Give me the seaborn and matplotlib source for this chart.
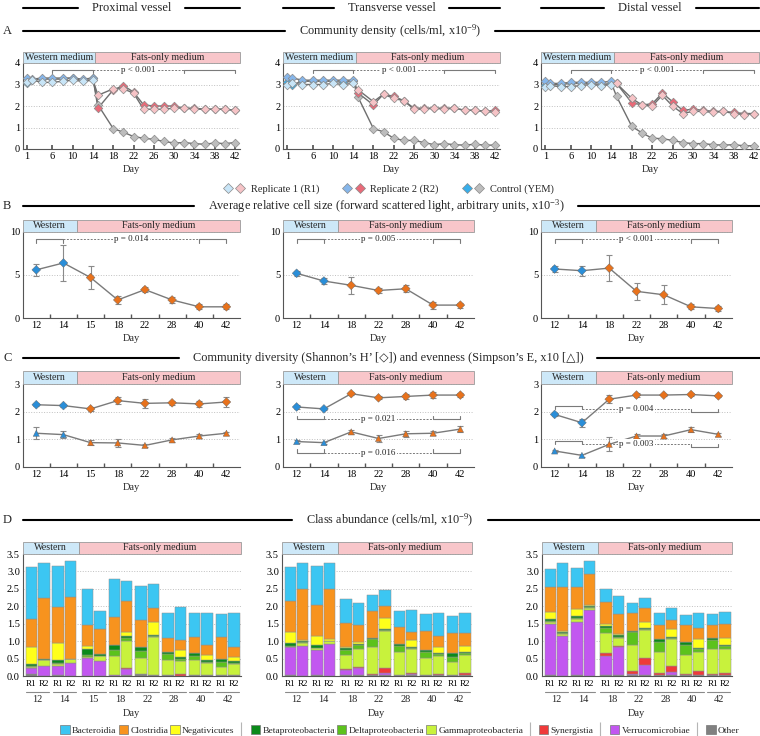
import numpy as np
import matplotlib.pyplot as plt
import seaborn as sns
from matplotlib.patches import Rectangle, Patch
from matplotlib.lines import Line2D
from matplotlib.legend_handler import HandlerTuple

sns.set_theme(style='white')
plt.rcParams['font.family'] = ['Liberation Serif', 'DejaVu Serif']
plt.rcParams['mathtext.fontset'] = 'custom'
plt.rcParams['mathtext.rm'] = 'Liberation Serif'
plt.rcParams['mathtext.it'] = 'Liberation Serif:italic'

W, H = 760, 736

# ---------------- data ----------------
vessels = ['Proximal vessel', 'Transverse vessel', 'Distal vessel']

# A: community density (cells/ml, x10^-9)
days_west = [1, 2, 4, 6, 8, 10, 12, 14]
days_fats = [15, 18, 20, 22, 24, 26, 28, 30, 32, 34, 36, 38, 40, 42]
day_ticks = [1, 6, 10, 14, 18, 22, 26, 30, 34, 38, 42]

prox_r1 = [3.10, 3.20, 3.10, 3.10, 3.15, 3.20, 3.15, 3.20, 2.50, 2.80, 2.80, 2.60, 1.85, 1.85, 1.85, 1.90, 1.90, 1.85, 1.85, 1.85, 1.85, 1.80]
prox_r2 = [3.30, 3.25, 3.30, 3.30, 3.30, 3.30, 3.25, 3.30, 1.90, 2.75, 2.95, 2.65, 2.05, 2.00, 2.00, 2.00, 1.90, 1.90, 1.85, 1.85, 1.85, 1.80]
prox_ctrl = [3.05, 3.20, 3.25, 3.25, 3.25, 3.30, 3.20, 3.30, 2.05, 0.95, 0.78, 0.58, 0.50, 0.45, 0.35, 0.28, 0.30, 0.25, 0.22, 0.28, 0.25, 0.30]
trans_r1 = [3.00, 3.05, 3.00, 3.00, 3.00, 3.05, 3.00, 3.05, 2.75, 2.20, 2.55, 2.35, 2.25, 1.85, 1.85, 1.90, 1.85, 1.90, 1.80, 1.80, 1.75, 1.70]
trans_r2 = [3.35, 3.30, 3.20, 3.20, 3.20, 3.20, 3.20, 3.20, 2.60, 2.05, 2.55, 2.45, 2.25, 1.90, 1.90, 1.90, 1.90, 1.90, 1.80, 1.80, 1.75, 1.80]
trans_ctrl = [3.10, 3.00, 3.15, 3.15, 3.15, 3.15, 3.10, 3.15, 2.40, 0.95, 0.80, 0.50, 0.40, 0.40, 0.30, 0.20, 0.25, 0.20, 0.18, 0.22, 0.18, 0.18]
dist_r1 = [2.90, 2.95, 2.90, 2.90, 2.95, 3.00, 2.95, 3.00, 3.05, 2.35, 2.05, 2.00, 2.50, 2.00, 1.65, 1.75, 1.75, 1.70, 1.75, 1.65, 1.60, 1.65]
dist_r2 = [3.15, 3.05, 3.05, 3.10, 3.10, 3.10, 3.10, 3.15, 3.05, 2.15, 2.05, 2.10, 2.60, 2.20, 1.80, 1.85, 1.80, 1.75, 1.75, 1.70, 1.65, 1.65]
dist_ctrl = [3.00, 3.00, 3.00, 3.05, 3.05, 3.05, 3.00, 3.05, 2.45, 1.05, 0.75, 0.50, 0.48, 0.40, 0.30, 0.25, 0.25, 0.20, 0.18, 0.20, 0.15, 0.15]

# B: average relative cell size
sample_days_prox = ['12', '14', '15', '18', '22', '28', '40', '42']
sample_days = ['12', '14', '18', '22', '28', '40', '42']
prox_size = [5.6, 6.4, 4.7, 2.1, 3.3, 2.1, 1.3, 1.3]
prox_size_err = [0.7, 2.1, 1.3, 0.5, 0.3, 0.3, 0.3, 0.3]
trans_size = [5.2, 4.3, 3.8, 3.2, 3.4, 1.5, 1.5]
trans_size_err = [0.3, 0.4, 1.0, 0.3, 0.4, 0.4, 0.3]
dist_size = [5.7, 5.5, 5.8, 3.1, 2.7, 1.3, 1.1]
dist_size_err = [0.4, 0.6, 1.5, 1.0, 1.1, 0.3, 0.3]
size_p = ['p = 0.014', 'p = 0.005', 'p < 0.001']

# C: diversity / evenness
prox_shannon = [2.25, 2.22, 2.10, 2.40, 2.30, 2.32, 2.28, 2.35]
prox_shannon_err = [0.06, 0.06, 0.06, 0.12, 0.15, 0.08, 0.10, 0.18]
prox_simpson = [1.22, 1.17, 0.88, 0.87, 0.78, 0.98, 1.12, 1.22]
prox_simpson_err = [0.22, 0.12, 0.08, 0.14, 0.05, 0.06, 0.06, 0.06]
trans_shannon = [2.17, 2.10, 2.65, 2.50, 2.55, 2.60, 2.60]
trans_shannon_err = [0.06, 0.05, 0.05, 0.06, 0.08, 0.10, 0.08]
trans_simpson = [0.92, 0.88, 1.27, 1.03, 1.20, 1.22, 1.37]
trans_simpson_err = [0.05, 0.04, 0.08, 0.12, 0.10, 0.08, 0.10]
dist_shannon = [1.90, 1.60, 2.45, 2.60, 2.60, 2.62, 2.57]
dist_shannon_err = [0.06, 0.15, 0.15, 0.06, 0.05, 0.06, 0.05]
dist_simpson = [0.58, 0.42, 0.82, 1.12, 1.12, 1.35, 1.18]
dist_simpson_err = [0.05, 0.05, 0.25, 0.08, 0.06, 0.10, 0.05]

# D: class abundance (R1, R2 per sampling day)
classes = ['Bacteroidia', 'Clostridia', 'Negativicutes', 'Betaproteobacteria', 'Deltaproteobacteria',
           'Gammaproteobacteria', 'Synergistia', 'Verrucomicrobiae', 'Other']
class_colors = ['#3cc6f2', '#f7931e', '#ffff1a', '#0b8a1a', '#5cc21c', '#c8f23c', '#ef3a3a', '#c257f0', '#808080']

prox_bact = [1.49, 0.99, 1.18, 1.03, 1.02, 0.51, 1.09, 0.57, 0.95, 0.71, 0.72, 0.95, 0.69, 0.90, 0.66, 0.96]
prox_clos = [0.80, 1.75, 1.02, 1.76, 0.60, 0.74, 0.80, 0.88, 0.80, 0.39, 0.40, 0.29, 0.47, 0.30, 0.61, 0.29]
prox_nega = [0.48, 0.01, 0.50, 0.00, 0.10, 0.00, 0.01, 0.12, 0.00, 0.37, 0.00, 0.19, 0.00, 0.15, 0.00, 0.13]
prox_beta = [0.06, 0.03, 0.08, 0.02, 0.17, 0.04, 0.13, 0.05, 0.10, 0.03, 0.08, 0.05, 0.08, 0.05, 0.10, 0.04]
prox_delta = [0.03, 0.01, 0.02, 0.00, 0.05, 0.02, 0.18, 0.10, 0.20, 0.03, 0.17, 0.07, 0.13, 0.02, 0.15, 0.03]
prox_gamma = [0.03, 0.15, 0.05, 0.12, 0.04, 0.14, 0.54, 0.76, 0.45, 1.09, 0.43, 0.38, 0.43, 0.36, 0.23, 0.33]
prox_syn = [0.00, 0.00, 0.00, 0.00, 0.00, 0.00, 0.00, 0.05, 0.00, 0.01, 0.00, 0.05, 0.00, 0.00, 0.00, 0.00]
prox_verr = [0.18, 0.29, 0.28, 0.35, 0.50, 0.41, 0.02, 0.17, 0.00, 0.00, 0.00, 0.00, 0.00, 0.00, 0.00, 0.00]
prox_other = [0.05, 0.01, 0.02, 0.01, 0.01, 0.01, 0.01, 0.02, 0.07, 0.02, 0.02, 0.00, 0.02, 0.02, 0.02, 0.02]

trans_bact = [0.97, 0.73, 1.11, 0.73, 0.67, 0.63, 0.45, 0.44, 0.44, 0.65, 0.50, 0.66, 0.50, 0.60]
trans_clos = [0.90, 1.48, 0.89, 1.45, 0.70, 0.47, 0.78, 0.37, 0.50, 0.23, 0.53, 0.32, 0.57, 0.35]
trans_nega = [0.30, 0.02, 0.28, 0.04, 0.03, 0.05, 0.01, 0.30, 0.00, 0.19, 0.00, 0.17, 0.00, 0.17]
trans_beta = [0.08, 0.03, 0.07, 0.02, 0.05, 0.05, 0.03, 0.03, 0.05, 0.03, 0.07, 0.03, 0.10, 0.04]
trans_delta = [0.04, 0.02, 0.02, 0.00, 0.15, 0.10, 0.23, 0.02, 0.19, 0.03, 0.16, 0.05, 0.15, 0.06]
trans_gamma = [0.01, 0.10, 0.04, 0.07, 0.40, 0.51, 0.76, 1.08, 0.64, 0.67, 0.48, 0.51, 0.38, 0.52]
trans_syn = [0.00, 0.00, 0.00, 0.00, 0.03, 0.03, 0.04, 0.12, 0.01, 0.05, 0.02, 0.04, 0.00, 0.06]
trans_verr = [0.78, 0.84, 0.71, 0.91, 0.15, 0.22, 0.00, 0.07, 0.00, 0.02, 0.00, 0.00, 0.00, 0.00]
trans_other = [0.04, 0.01, 0.04, 0.01, 0.02, 0.02, 0.02, 0.03, 0.03, 0.03, 0.02, 0.02, 0.02, 0.02]

dist_bact = [0.52, 0.71, 0.55, 0.38, 0.38, 0.52, 0.30, 0.29, 0.35, 0.33, 0.30, 0.43, 0.32, 0.35]
dist_clos = [0.71, 1.26, 0.63, 0.89, 0.62, 0.58, 0.50, 0.40, 0.40, 0.27, 0.47, 0.32, 0.35, 0.38]
dist_nega = [0.22, 0.01, 0.21, 0.02, 0.07, 0.03, 0.01, 0.17, 0.00, 0.23, 0.00, 0.25, 0.00, 0.20]
dist_beta = [0.05, 0.04, 0.05, 0.04, 0.05, 0.04, 0.04, 0.04, 0.07, 0.04, 0.08, 0.03, 0.08, 0.03]
dist_delta = [0.02, 0.02, 0.03, 0.02, 0.15, 0.03, 0.35, 0.02, 0.28, 0.03, 0.30, 0.07, 0.24, 0.09]
dist_gamma = [0.06, 0.06, 0.08, 0.05, 0.58, 0.23, 0.75, 0.79, 0.62, 0.77, 0.54, 0.56, 0.73, 0.68]
dist_syn = [0.00, 0.00, 0.00, 0.00, 0.08, 0.05, 0.10, 0.22, 0.05, 0.16, 0.04, 0.10, 0.03, 0.08]
dist_verr = [1.46, 1.14, 1.51, 1.89, 0.53, 0.80, 0.01, 0.29, 0.00, 0.10, 0.00, 0.02, 0.00, 0.00]
dist_other = [0.04, 0.01, 0.04, 0.01, 0.04, 0.02, 0.04, 0.02, 0.03, 0.02, 0.02, 0.02, 0.02, 0.02]

# ---------------- styling ----------------
BLUE_W, ORANGE_F = '#2a8ed8', '#e8721c'
LINE_GRAY = '#7a7a7a'
BAND_BLUE, BAND_PINK = '#cde8f8', '#f8c6ca'

fig = plt.figure(figsize=(W / 100, H / 100), dpi=100)


def px_axes(x0, y0, x1, y1):
    return fig.add_axes([x0 / W, 1 - y1 / H, (x1 - x0) / W, (y1 - y0) / H])


def style_axes(ax):
    for s in ['top', 'right']:
        ax.spines[s].set_visible(False)
    for s in ['left', 'bottom']:
        ax.spines[s].set_color('#555555')
        ax.spines[s].set_linewidth(0.8)
    ax.tick_params(labelsize=7.5, pad=2, length=0, colors='black')
    ax.yaxis.grid(True, ls=':', lw=0.7, color='#c0c0c0')
    ax.xaxis.grid(False)
    ax.set_axisbelow(True)


def medium_band(ax, split, left_txt, right_txt, band_px, ax_px):
    tr = ax.get_xaxis_transform()
    x0, x1 = ax.get_xlim()
    h = band_px / ax_px
    ax.add_patch(Rectangle((x0, 1.0), split - x0, h, transform=tr, fc=BAND_BLUE, ec='#9a9a9a',
                           lw=0.6, clip_on=False, zorder=6))
    ax.add_patch(Rectangle((split, 1.0), x1 - split, h, transform=tr, fc=BAND_PINK, ec='#9a9a9a',
                           lw=0.6, clip_on=False, zorder=6))
    ax.text((x0 + split) / 2, 1 + h / 2, left_txt, transform=tr, ha='center', va='center',
            fontsize=7.2, zorder=7)
    ax.text((split + x1) / 2, 1 + h / 2, right_txt, transform=tr, ha='center', va='center',
            fontsize=7.2, zorder=7)


def p_bracket(ax, xa, xb, xc, xd, y, label, tick, y_right=None, tick_right=None, y_dash=None):
    yr = y if y_right is None else y_right
    tr = tick if tick_right is None else tick_right
    yd = y if y_dash is None else y_dash
    kw = dict(color='#7a7a7a', lw=0.8, zorder=3)
    ax.plot([xa, xa, xb, xb], [y - tick, y, y, y - tick], **kw)
    ax.plot([xc, xc, xd, xd], [yr - tr, yr, yr, yr - tr], **kw)
    ax.plot([xb, xc], [yd, yd], ls=(0, (2, 1.5)), color='#7a7a7a', lw=0.7, zorder=3)
    ax.text((xb + xc) / 2, yd, label, ha='center', va='center', fontsize=6.5, zorder=4,
            bbox=dict(fc='white', ec='none', pad=0.8))


# ---------------- A: density ----------------
A_TOP, A_BOT = 63, 149
a_x = [(22.7, 240), (283, 500), (541, 759)]
a_series = [(prox_r1, prox_r2, prox_ctrl), (trans_r1, trans_r2, trans_ctrl), (dist_r1, dist_r2, dist_ctrl)]
a_colors = [('#c8e5f7', '#f6c3c6'), ('#86b6ea', '#e96a78'), ('#38aeea', '#bdbdbd')]
all_days = days_west + days_fats
nw = len(days_west)
for (x0, x1), (r1, r2, ctrl) in zip(a_x, a_series):
    ax = px_axes(x0, A_TOP, x1, A_BOT)
    style_axes(ax)
    for vals, (cw, cf) in zip([ctrl, r2, r1], a_colors[::-1]):
        sns.lineplot(x=all_days, y=vals, ax=ax, color='#6e6e6e', lw=1.0, zorder=2)
        ax.scatter(all_days[:nw], vals[:nw], marker='D', s=19, c=cw, edgecolors='#8a8a8a',
                   linewidths=0.5, zorder=3)
        ax.scatter(all_days[nw:], vals[nw:], marker='D', s=19, c=cf, edgecolors='#8a8a8a',
                   linewidths=0.5, zorder=3)
    ax.set_xlim(0.15, 43)
    ax.set_ylim(0, 4)
    ax.set_yticks(range(5))
    ax.set_xticks(day_ticks)
    ax.tick_params(axis='x', direction='in', length=3, bottom=True, color='#555555')
    ax.set_xlabel('Day', fontsize=7.5, labelpad=3)
    ax.set_ylabel('')
    medium_band(ax, 14.5, 'Western medium', 'Fats-only medium', 11, A_BOT - A_TOP)
    p_bracket(ax, 6, 14, 32, 42, 3.67, 'p < 0.001', 0.12)

leg_handles = []
for cw, cf in a_colors:
    leg_handles.append((Line2D([], [], ls='none', marker='D', ms=5.5, mfc=cw, mec='#8a8a8a', mew=0.5),
                        Line2D([], [], ls='none', marker='D', ms=5.5, mfc=cf, mec='#8a8a8a', mew=0.5)))
fig.legend(leg_handles, ['Replicate 1 (R1)', 'Replicate 2 (R2)', 'Control (YEM)'],
           handler_map={tuple: HandlerTuple(ndivide=None, pad=0.15)},
           loc='center', bbox_to_anchor=(388 / W, 1 - 189 / H), ncol=3, frameon=False,
           fontsize=7.5, handlelength=2.2, handletextpad=0.5, columnspacing=2.2)

# ---------------- B & C: categorical panels ----------------
bc_x = [(22.7, 240), (283, 474), (541, 732)]


def category_axes(ax, labels):
    n = len(labels)
    ax.set_xlim(-0.5, n - 0.5)
    ax.set_xticks(range(n))
    ax.set_xticklabels(labels)
    ax.set_xticks(np.arange(0.5, n - 1, 1), minor=True)
    ax.tick_params(axis='x', which='minor', direction='in', length=3, bottom=True, color='#555555')
    ax.set_xlabel('Day', fontsize=7.5, labelpad=3)


def series_points(ax, vals, errs, marker):
    x = np.arange(len(vals))
    sns.lineplot(x=x, y=vals, ax=ax, color=LINE_GRAY, lw=1.0, zorder=2)
    ax.errorbar(x, vals, yerr=errs, fmt='none', ecolor='#8a8a8a', elinewidth=0.8, capsize=2,
                capthick=0.8, zorder=2)
    cols = [BLUE_W if i < 2 else ORANGE_F for i in x]
    ax.scatter(x, vals, marker=marker, s=20, c=cols, edgecolors='#666666', linewidths=0.3, zorder=4)


B_TOP, B_BOT = 232, 318
b_data = [(sample_days_prox, prox_size, prox_size_err), (sample_days, trans_size, trans_size_err),
          (sample_days, dist_size, dist_size_err)]
for (x0, x1), (labels, vals, errs), ptxt in zip(bc_x, b_data, size_p):
    ax = px_axes(x0, B_TOP, x1, B_BOT)
    style_axes(ax)
    series_points(ax, vals, errs, 'D')
    category_axes(ax, labels)
    ax.set_ylim(0, 10)
    ax.set_yticks([0, 5, 10])
    n = len(labels)
    medium_band(ax, 1.5, 'Western', 'Fats-only medium', 12, B_BOT - B_TOP)
    p_bracket(ax, 0, 1, n - 2, n - 1, 9.2, ptxt, 0.5)

C_TOP, C_BOT = 384, 467
c_data = [(sample_days_prox, prox_shannon, prox_shannon_err, prox_simpson, prox_simpson_err),
          (sample_days, trans_shannon, trans_shannon_err, trans_simpson, trans_simpson_err),
          (sample_days, dist_shannon, dist_shannon_err, dist_simpson, dist_simpson_err)]
c_axes = []
for (x0, x1), (labels, sh, she, si, sie) in zip(bc_x, c_data):
    ax = px_axes(x0, C_TOP, x1, C_BOT)
    style_axes(ax)
    series_points(ax, sh, she, 'D')
    series_points(ax, si, sie, '^')
    category_axes(ax, labels)
    ax.set_ylim(0, 3)
    ax.set_yticks([0, 1, 2, 3])
    medium_band(ax, 1.5, 'Western', 'Fats-only medium', 13, C_BOT - C_TOP)
    c_axes.append(ax)
p_bracket(c_axes[1], 0, 1, 5, 6, 1.72, 'p = 0.021', -0.12)
p_bracket(c_axes[1], 0, 1, 5, 6, 0.52, 'p = 0.016', -0.12)
p_bracket(c_axes[2], 0, 1, 5, 6, 2.22, 'p = 0.004', 0.12, y_right=1.98, tick_right=-0.12, y_dash=2.1)
p_bracket(c_axes[2], 0, 1, 5, 6, 0.95, 'p = 0.003', 0.12, y_right=0.71, tick_right=-0.12, y_dash=0.83)

# ---------------- D: stacked class abundance ----------------
D_TOP, D_BOT = 554, 676
d_x = [(22.7, 240.7), (281.7, 471.7), (541.7, 731.7)]
d_data = [
    (sample_days_prox, [prox_other, prox_verr, prox_syn, prox_gamma, prox_delta, prox_beta, prox_nega, prox_clos, prox_bact]),
    (sample_days, [trans_other, trans_verr, trans_syn, trans_gamma, trans_delta, trans_beta, trans_nega, trans_clos, trans_bact]),
    (sample_days, [dist_other, dist_verr, dist_syn, dist_gamma, dist_delta, dist_beta, dist_nega, dist_clos, dist_bact]),
]
stack_colors = class_colors[::-1]
d_h = D_BOT - D_TOP
for (x0, x1), (labels, layers) in zip(d_x, d_data):
    ax = px_axes(x0, D_TOP, x1, D_BOT)
    style_axes(ax)
    g = np.arange(len(labels))
    starts = g * 2.15 + np.where(g >= 2, 0.2, 0.0)
    pos = np.ravel(np.column_stack([starts, starts + 1]))
    bottom = np.zeros(len(pos))
    for vals, col in zip(layers, stack_colors):
        vals = np.asarray(vals)
        ax.bar(pos, vals, width=0.92, bottom=bottom, color=col, edgecolor='#8f8f8f', linewidth=0.35,
               zorder=2)
        bottom += vals
    ax.set_xlim(-0.7, pos[-1] + 0.55)
    ax.set_ylim(0, 3.5)
    ax.set_yticks(np.arange(0, 3.51, 0.5))
    ax.set_yticklabels([f'{v:.1f}' for v in np.arange(0, 3.51, 0.5)])
    ax.set_xticks(pos)
    ax.set_xticklabels(['R1', 'R2'] * len(labels), fontsize=6.5)
    ax.tick_params(axis='x', pad=3)
    tr = ax.get_xaxis_transform()
    for s, lab in zip(starts, labels):
        ax.plot([s - 0.45, s + 1.45], [-16 / d_h] * 2, transform=tr, color='#8a8a8a', lw=0.8,
                clip_on=False)
        ax.text(s + 0.5, -24 / d_h, lab, transform=tr, ha='center', va='center', fontsize=7.5)
    ax.text(0.5, -38 / d_h, 'Day', transform=ax.transAxes, ha='center', va='center', fontsize=7.5)
    medium_band(ax, (starts[1] + 1 + starts[2]) / 2, 'Western', 'Fats-only medium', 12, d_h)

d_handles, d_labels = [], []
sep = Line2D([], [], ls='none', marker='|', ms=10, mew=0.8, color='#b5b5b5')
for i, (name, col) in enumerate(zip(classes, class_colors)):
    if i in (3, 6, 7, 8):
        d_handles.append(sep)
        d_labels.append('')
    d_handles.append(Patch(fc=col, ec='#777777', lw=0.5))
    d_labels.append(name)
fig.legend(d_handles, d_labels, loc='center', bbox_to_anchor=(400 / W, 1 - 730 / H), ncol=len(d_handles),
           frameon=False, fontsize=6.8, handlelength=1.0, handleheight=1.1, handletextpad=0.25,
           columnspacing=0.22, borderpad=0.1)

# ---------------- headers ----------------
renderer = fig.canvas.get_renderer()
GAP = 14


def hline(xa, xb, y):
    fig.add_artist(Line2D([xa / W, xb / W], [1 - y / H] * 2, transform=fig.transFigure,
                          color='black', lw=1.5))


def header(y, text, xl, xr, cx, size=8.8, letter=None):
    t = fig.text(cx / W, 1 - y / H, text, ha='center', va='center', fontsize=size)
    bb = t.get_window_extent(renderer)
    hline(xl, bb.x0 - GAP, y)
    hline(bb.x1 + GAP, xr, y)
    if letter:
        fig.text(3 / W, 1 - y / H, letter, ha='left', va='center', fontsize=9)


for name, (x0, x1) in zip(vessels, a_x):
    header(8, name, x0, x1, (x0 + x1) / 2, size=9)
header(31, r'Community density (cells/ml, x10$^{\mathregular{-9}}$)', 22.7, W, 390, letter='A')
header(206, r'Average relative cell size (forward scattered light, arbitrary units, x10$^{\mathregular{-3}}$)',
       22.7, W, 386, letter='B')
header(358, 'Community diversity (Shannon\u2019s H\u2019 [\u25c7]) and evenness (Simpson\u2019s E, x10 [\u25b3])',
       22.7, W, 388, letter='C')
header(520, r'Class abundance (cells/ml, x10$^{\mathregular{-9}}$)', 22.7, W, 390, letter='D')

fig.savefig('out.png', dpi=100)
